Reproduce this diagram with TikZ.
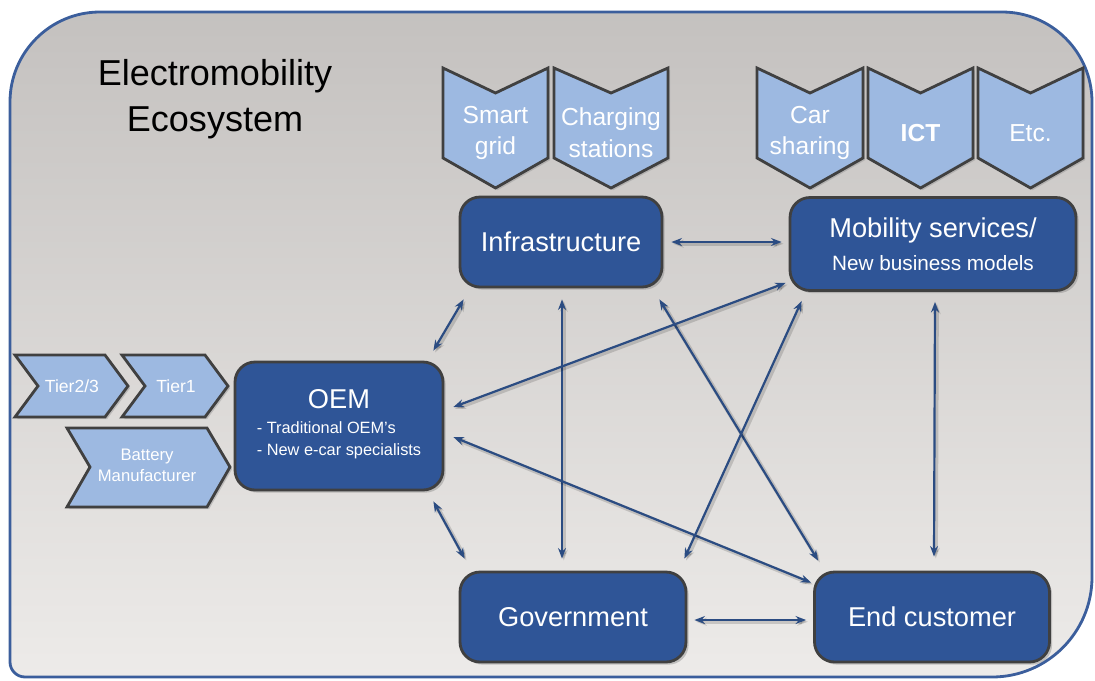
\documentclass[tikz,border=0pt]{standalone}
\usepackage{fontspec}
\setmainfont{Liberation Sans}
\usetikzlibrary{arrows.meta,shadows}
\definecolor{bgtop}{HTML}{C4C1BF}
\definecolor{bgbot}{HTML}{EDEBE9}
\definecolor{framec}{HTML}{3B5E9C}
\definecolor{boxfill}{HTML}{2F5597}
\definecolor{boxline}{HTML}{404040}
\definecolor{chevfill}{HTML}{9DB9E1}
\definecolor{arrowc}{HTML}{2B4C82}
\newcommand{\bigboxfont}{\fontsize{15.5}{19}\selectfont}
\begin{document}
\begin{tikzpicture}[
		x=0.02cm, y=-0.02cm,
		frame/.style={draw=framec, line width=1.6pt, top color=bgtop, bottom color=bgbot},
		chev/.style={draw=boxline, line width=1.6pt, fill=chevfill,
				drop shadow={opacity=.35, shadow xshift=1.2pt, shadow yshift=-1.2pt}},
		chevtxt/.style={text=white, align=center, font=\fontsize{14}{18}\selectfont},
		tiertxt/.style={text=white, align=center, font=\fontsize{10}{12}\selectfont},
		box/.style={draw=boxline, line width=1.6pt, fill=boxfill, rounded corners=0.4cm,
				text=white, align=center, inner sep=0pt, font=\bigboxfont,
				drop shadow={opacity=.4, shadow xshift=1.5pt, shadow yshift=-1.5pt}},
		link/.style={{Stealth[length=6pt,width=4.5pt]}-{Stealth[length=6pt,width=4.5pt]},
				line width=1.25pt, draw=arrowc,
				preaction={draw=black, opacity=.15, line width=2.4pt,
						transform canvas={xshift=1pt, yshift=-1pt}}}
	]
	\useasboundingbox (0,0) rectangle (1095,680);
	% background frame
	\draw[frame] (10,400) [rounded corners=1.8cm] -- (10,12) -- (1092,12)
		[rounded corners=2cm] -- (1092,677) [rounded corners=0.3cm] -- (10,677) -- cycle;
	\node[font=\fontsize{20.5}{26}\selectfont, align=center] (title) at (215,99)
		{Electromobility\\Ecosystem};

	% top chevrons
	\foreach \cx/\w/\nm/\txt in {443/105/smart/{Smart\\grid}, 554/114/charge/{Charging\\stations},
			757/106/share/{Car\\sharing}, 868/105/ict/{\textbf{ICT}}, 978/105/etc/{Etc.}}{
			\draw[chev] (\cx,68) -- ++(\w/2,25) -- ++(\w/2,-25) -- ++(0,90)
				-- ++(-\w/2,30) -- ++(-\w/2,-30) -- cycle;
			\node[chevtxt] (\nm) at (\cx+\w/2,133) {\txt};
		}

	% supplier chevrons
	\draw[chev] (15,355) -- (105,355) -- (128,386) -- (105,417) -- (15,417) -- (38,386) -- cycle;
	\node[tiertxt] (tier23) at (72,386) {Tier2/3};
	\draw[chev] (122,355) -- (205,355) -- (228,386) -- (205,417) -- (122,417) -- (145,386) -- cycle;
	\node[tiertxt] (tier1) at (176,386) {Tier1};
	\draw[chev] (67,428) -- (207,428) -- (230,467) -- (207,507) -- (67,507) -- (90,467) -- cycle;
	\node[tiertxt, font=\fontsize{9.5}{12}\selectfont] (battery) at (147,465) {Battery\\Manufacturer};

	% actors
	\node[box, minimum width=4.16cm, minimum height=2.56cm] (oem) at (339,426)
		{{\fontsize{15.5}{19}\selectfont OEM}\\[1pt]
			{\fontsize{9.3}{12.5}\selectfont\begin{tabular}{@{}l@{}}- Traditional OEM's\\- New e-car specialists\end{tabular}}};
	\node[box, minimum width=4.04cm, minimum height=1.8cm] (infra) at (561,242) {Infrastructure};
	\node[box, minimum width=5.72cm, minimum height=1.86cm] (mob) at (933,244)
		{Mobility services/\\{\fontsize{11.8}{15}\selectfont New business models}};
	\node[box, minimum width=4.52cm, minimum height=1.8cm] (gov) at (573,617) {Government};
	\node[box, minimum width=4.7cm, minimum height=1.8cm] (end) at (932,617) {End customer};

	% relations
	\draw[link] ([shift={(8,0)}]infra.east) -- ([shift={(-7,-2)}]mob.west);
	\draw[link] ([shift={(7,3)}]gov.east) -- ([shift={(-7,3)}]end.west);
	\draw[link] ([shift={(5,11)}]infra.south west) -- ([shift={(-11,-10)}]oem.north east);
	\draw[link] ([shift={(-11,10)}]oem.south east) -- ([shift={(6,-12)}]gov.north west);
	\draw[link] ([shift={(1,11)}]infra.south) -- ([shift={(-11,-12)}]gov.north);
	\draw[link] ([shift={(-4,11)}]infra.south east) -- ([shift={(5,-10)}]end.north west);
	\draw[link] ([shift={(9,-19)}]oem.east) -- ([shift={(-3,-9)}]mob.south west);
	\draw[link] ([shift={(9,11)}]oem.east) -- ([shift={(-2,12)}]end.north west);
	\draw[link] ([shift={(-3,-12)}]gov.north east) -- ([shift={(13,9)}]mob.south west);
	\draw[link] ([shift={(2,10)}]mob.south) -- ([shift={(2,-14)}]end.north);
\end{tikzpicture}
\end{document}
